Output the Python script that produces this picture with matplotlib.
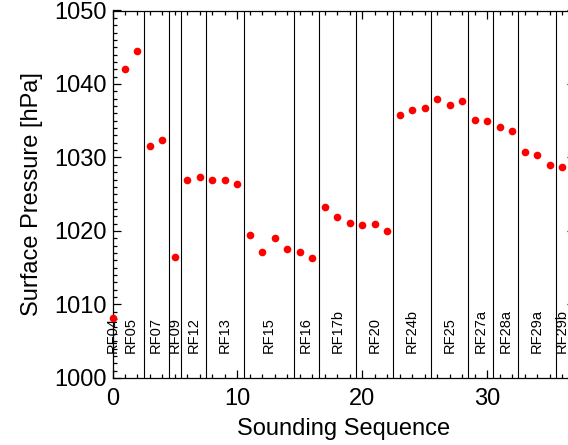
import matplotlib

matplotlib.use("Agg")
import matplotlib.pyplot as plt
from matplotlib.ticker import MultipleLocator

plt.rcParams["font.family"] = ["Liberation Sans", "DejaVu Sans"]

# surface pressure for each sounding, in sequence order
sequence = list(range(37))
pressure = [
    1008.2, 1042.1, 1044.5, 1031.5, 1032.4, 1016.4, 1027.0, 1027.4, 1027.0, 1027.0,
    1026.4, 1019.4, 1017.1, 1019.1, 1017.5, 1017.2, 1016.3, 1023.3, 1021.9, 1021.1,
    1020.8, 1021.0, 1020.0, 1035.8, 1036.4, 1036.8, 1038.0, 1037.2, 1037.7, 1035.1,
    1035.0, 1034.1, 1033.6, 1030.8, 1030.4, 1029.0, 1028.75,
]

# research flights: name and the sounding indices that belong to each
flights = ["RF04", "RF05", "RF07", "RF09", "RF12", "RF13", "RF15", "RF16", "RF17b",
           "RF20", "RF24b", "RF25", "RF27a", "RF28a", "RF29a", "RF29b"]
flight_first = [0, 1, 3, 5, 6, 8, 11, 15, 17, 20, 23, 26, 29, 31, 33, 36]
flight_last = [0, 2, 4, 5, 7, 10, 14, 16, 19, 22, 25, 28, 30, 32, 35, 36]

# separators drawn between flight groups
separators = [2.5, 4.5, 5.5, 7.5, 10.5, 14.5, 16.5, 19.5, 22.5, 25.5, 28.5, 30.5,
              32.5, 35.5]

fig = plt.figure(figsize=(5.68, 4.45), dpi=100)
ax = fig.add_axes([112.5 / 568, 1 - 378 / 445, 462 / 568, 367.5 / 445])

ax.set_xlim(0, 37)
ax.set_ylim(1000, 1050)

for xs in separators:
    ax.axvline(xs, color="black", linewidth=0.8, zorder=1)

ax.plot(sequence, pressure, "o", color="red", markersize=5.5,
        markeredgewidth=0, zorder=3, clip_on=False)

for name, first, last in zip(flights, flight_first, flight_last):
    ax.text((first + last) / 2, 1003.4, name, rotation=90, ha="center",
            va="bottom", fontsize=10.5, color="black", zorder=2)

ax.xaxis.set_major_locator(MultipleLocator(10))
ax.xaxis.set_minor_locator(MultipleLocator(1))
ax.yaxis.set_major_locator(MultipleLocator(10))
ax.yaxis.set_minor_locator(MultipleLocator(1))
ax.tick_params(which="both", direction="in", top=True, right=True, width=0.9,
               labelsize=17, colors="black")
ax.tick_params(which="major", length=6)
ax.tick_params(which="minor", length=3)
ax.tick_params(axis="x", pad=7)
ax.tick_params(axis="y", pad=4)

for spine in ax.spines.values():
    spine.set_linewidth(0.9)

ax.set_xlabel("Sounding Sequence", fontsize=17, labelpad=6)
ax.set_ylabel("Surface Pressure [hPa]", fontsize=17, labelpad=8)

fig.savefig("out.png", dpi=100)
